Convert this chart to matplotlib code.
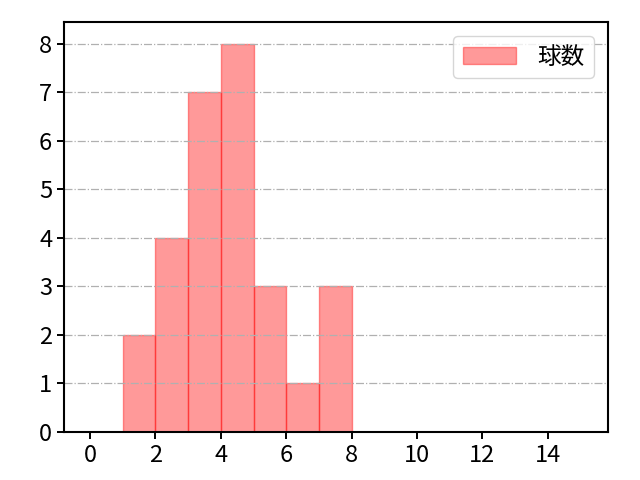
import numpy as np
import matplotlib
matplotlib.use('Agg')
import matplotlib.pyplot as plt

plt.rcParams['font.family'] = ['Noto Sans CJK JP', 'DejaVu Sans']

# histogram bins and counts
bin_edges = [1, 2, 3, 4, 5, 6, 7, 8]
counts = [2, 4, 7, 8, 3, 1, 3]
label = '球数'

fig = plt.figure(figsize=(6.4, 4.8), dpi=100)
ax = fig.add_axes([64/640, 48/480, 544/640, 410/480])

lefts = np.array(bin_edges[:-1])
widths = np.diff(bin_edges)
ax.bar(lefts, counts, width=widths, align='edge',
       color='red', edgecolor='red', alpha=0.4, linewidth=1.0, label=label)

ax.set_xlim(-0.8, 15.85)
ax.set_ylim(0, 8.45)
ax.set_xticks(np.arange(0, 15, 2))
ax.set_yticks(np.arange(0, 9, 1))
ax.tick_params(labelsize=17, length=5, width=1.4)
ax.grid(axis='y', linestyle='-.', color='#b0b0b0', linewidth=0.9)
ax.legend(loc='upper right', fontsize=17, handlelength=2.25,
          handletextpad=0.9, borderaxespad=0.6)
for s in ax.spines.values():
    s.set_linewidth(1.5)

fig.savefig('out.png')
